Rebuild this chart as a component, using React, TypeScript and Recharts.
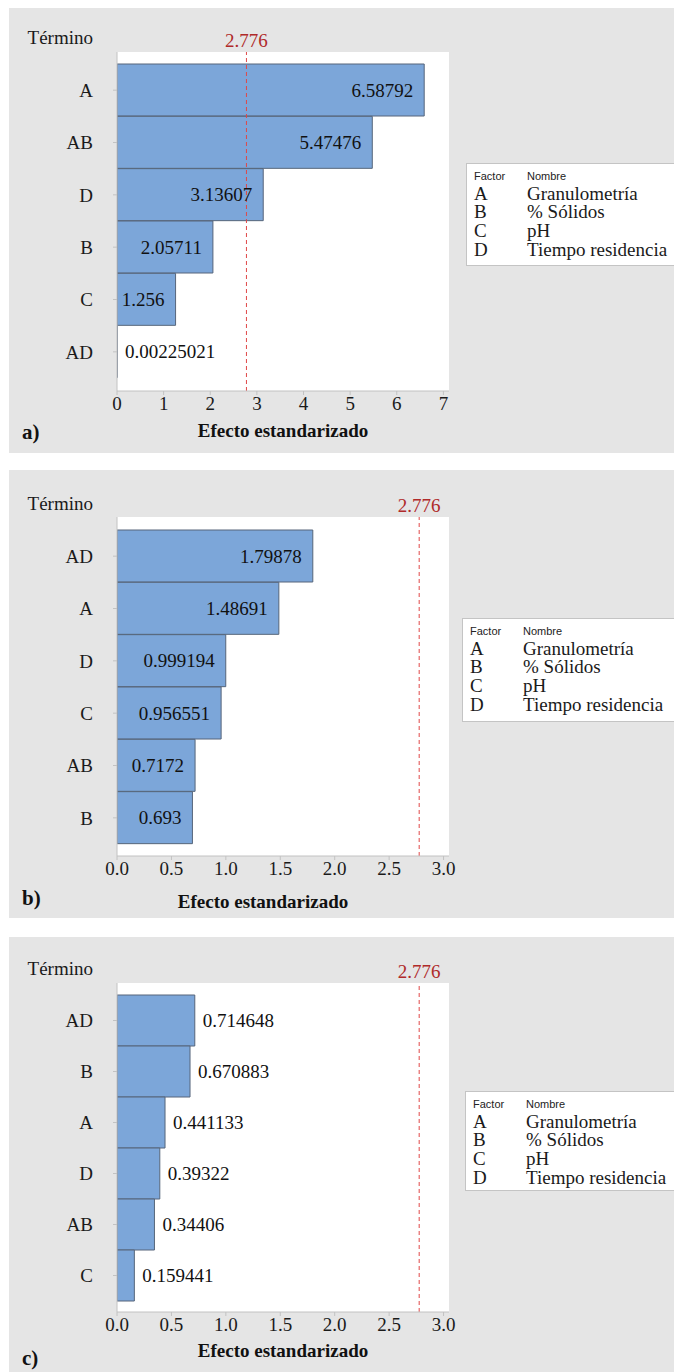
import { BarChart, Bar, XAxis, YAxis, CartesianGrid, ReferenceLine, LabelList } from 'recharts';

// Critical t value shown as the dashed reference line
const CRITICAL = 2.776;

const FACTORS = ['A', 'B', 'C', 'D'];
const FACTOR_NAMES = ['Granulometría', '% Sólidos', 'pH', 'Tiempo residencia'];

// a) standardized effects
const termsA = ['A', 'AB', 'D', 'B', 'C', 'AD'];
const effectsA = [6.58792, 5.47476, 3.13607, 2.05711, 1.256, 0.00225021];
const ticksA = [0, 1, 2, 3, 4, 5, 6, 7];

// b) standardized effects
const termsB = ['AD', 'A', 'D', 'C', 'AB', 'B'];
const effectsB = [1.79878, 1.48691, 0.999194, 0.956551, 0.7172, 0.693];
const ticksB = [0, 0.5, 1, 1.5, 2, 2.5, 3];

// c) standardized effects
const termsC = ['AD', 'B', 'A', 'D', 'AB', 'C'];
const effectsC = [0.714648, 0.670883, 0.441133, 0.39322, 0.34406, 0.159441];
const ticksC = [0, 0.5, 1, 1.5, 2, 2.5, 3];

const SERIF = '"Liberation Serif", "Times New Roman", serif';
const SANS = '"Liberation Sans", Arial, sans-serif';
const FS = 19;
const GRAY_LINE = '#c2c2c2';

// rough Times width: digits are half an em, the point a quarter
const textWidth = (s: string) => [...s].reduce((w, c) => w + (c === '.' ? 0.25 : 0.5), 0) * FS;

const EffectLabel = (props: any) => {
  const vb = props.viewBox ?? {};
  const x = Number(props.x ?? vb.x);
  const y = Number(props.y ?? vb.y);
  const w = Number(props.width ?? vb.width);
  const h = Number(props.height ?? vb.height);
  const txt = String(props.value);
  const inside = w >= textWidth(txt) + 14;
  return (
    <text
      x={inside ? x + w - 11 : x + w + 8}
      y={y + h / 2}
      textAnchor={inside ? 'end' : 'start'}
      dominantBaseline="central"
      fontSize={FS}
      fontFamily={SERIF}
      fill="#111"
    >
      {txt}
    </text>
  );
};

interface LegendBox {
  x: number;
  y: number;
  w: number;
  h: number;
}

interface PanelProps {
  terms: string[];
  effects: number[];
  ticks: number[];
  domainMax: number;
  decimals: number;
  top: number;
  height: number;
  plotTop: number;
  plotBottom: number;
  padTop: number;
  padBottom: number;
  legend: LegendBox;
  titleX: number;
  titleY: number;
  termY: number;
  tag: string;
  tagY: number;
}

const EffectsPanel = (p: PanelProps) => {
  const data = p.terms.map((term, i) => ({ term, effect: p.effects[i] }));
  const axisH = 30;
  return (
    <div style={{ position: 'absolute', left: 9, top: p.top, width: 673, height: p.height, background: '#e5e5e5' }}>
      <BarChart
        width={673}
        height={p.height}
        data={data}
        layout="vertical"
        barCategoryGap={0}
        margin={{ top: p.plotTop, right: 233, bottom: p.height - p.plotBottom - axisH, left: 0 }}
      >
        <CartesianGrid fill="#fff" horizontal={false} vertical={false} />
        <XAxis
          type="number"
          domain={[0, p.domainMax]}
          ticks={p.ticks}
          tickFormatter={(v: number) => v.toFixed(p.decimals)}
          allowDataOverflow
          height={axisH}
          tickSize={4}
          tickMargin={2}
          axisLine={{ stroke: GRAY_LINE }}
          tickLine={{ stroke: GRAY_LINE }}
          tick={{ fill: '#1a1a1a', fontSize: FS, fontFamily: SERIF }}
        />
        <XAxis
          xAxisId="top"
          orientation="top"
          type="number"
          domain={[0, p.domainMax]}
          height={0}
          tick={false}
          tickLine={false}
          axisLine={{ stroke: GRAY_LINE }}
        />
        <YAxis
          type="category"
          dataKey="term"
          width={108}
          tickSize={4}
          tickMargin={20}
          padding={{ top: p.padTop, bottom: p.padBottom }}
          axisLine={{ stroke: GRAY_LINE }}
          tickLine={{ stroke: GRAY_LINE }}
          tick={{ fill: '#1a1a1a', fontSize: FS, fontFamily: SERIF }}
        />
        <YAxis
          yAxisId="right"
          orientation="right"
          type="category"
          dataKey="term"
          width={0}
          tick={false}
          tickLine={false}
          axisLine={{ stroke: GRAY_LINE }}
        />
        <Bar dataKey="effect" fill="#7ca6d9" stroke="#56657a" strokeWidth={1} isAnimationActive={false}>
          <LabelList dataKey="effect" content={EffectLabel} />
        </Bar>
        <ReferenceLine
          x={CRITICAL}
          stroke="#e04848"
          strokeDasharray="4 3"
          label={{ value: String(CRITICAL), position: 'top', fill: '#b02a2a', fontSize: FS, fontFamily: SERIF }}
        />
      </BarChart>
      <svg width={673} height={p.height} style={{ position: 'absolute', left: 0, top: 0, pointerEvents: 'none' }}>
        <text x={84} y={p.termY} textAnchor="end" dominantBaseline="central" fontSize={FS} fontFamily={SERIF} fill="#1a1a1a">
          Término
        </text>
        <text
          x={p.titleX}
          y={p.titleY}
          textAnchor="middle"
          dominantBaseline="central"
          fontSize={FS}
          fontWeight="bold"
          fontFamily={SERIF}
          fill="#111"
        >
          Efecto estandarizado
        </text>
        <text x={13} y={p.tagY} dominantBaseline="central" fontSize={21} fontWeight="bold" fontFamily={SERIF} fill="#111">
          {p.tag}
        </text>
        <g transform={`translate(${p.legend.x},${p.legend.y})`}>
          <rect x={0.5} y={0.5} width={p.legend.w} height={p.legend.h} fill="#fff" stroke="#c4c4c4" />
          <text x={8} y={13} dominantBaseline="central" fontSize={11} fontFamily={SANS} fill="#222">
            Factor
          </text>
          <text x={61} y={13} dominantBaseline="central" fontSize={11} fontFamily={SANS} fill="#222">
            Nombre
          </text>
          {FACTORS.map((f, i) => (
            <g key={f}>
              <text x={8} y={30 + i * 18.7} dominantBaseline="central" fontSize={FS} fontFamily={SERIF} fill="#1a1a1a">
                {f}
              </text>
              <text x={61} y={30 + i * 18.7} dominantBaseline="central" fontSize={FS} fontFamily={SERIF} fill="#1a1a1a">
                {FACTOR_NAMES[i]}
              </text>
            </g>
          ))}
        </g>
      </svg>
    </div>
  );
};

export default function App() {
  return (
    <div style={{ position: 'relative', width: 682, height: 1372, margin: '-8px 0 0 -8px', fontFamily: SERIF, background: '#fff' }}>
      <EffectsPanel
        terms={termsA}
        effects={effectsA}
        ticks={ticksA}
        domainMax={7.12}
        decimals={0}
        top={5}
        height={448}
        plotTop={47}
        plotBottom={386}
        padTop={12}
        padBottom={13}
        legend={{ x: 457, y: 158, w: 211, h: 102 }}
        titleX={274}
        titleY={425}
        termY={32}
        tag="a)"
        tagY={427}
      />
      <EffectsPanel
        terms={termsB}
        effects={effectsB}
        ticks={ticksB}
        domainMax={3.05}
        decimals={1}
        top={470}
        height={448}
        plotTop={47}
        plotBottom={386}
        padTop={13}
        padBottom={12}
        legend={{ x: 453, y: 148, w: 212, h: 103 }}
        titleX={254}
        titleY={431}
        termY={33}
        tag="b)"
        tagY={428}
      />
      <EffectsPanel
        terms={termsC}
        effects={effectsC}
        ticks={ticksC}
        domainMax={3.05}
        decimals={1}
        top={937}
        height={435}
        plotTop={46}
        plotBottom={375}
        padTop={12}
        padBottom={11}
        legend={{ x: 456, y: 154, w: 212, h: 99 }}
        titleX={274}
        titleY={413}
        termY={31}
        tag="c)"
        tagY={421}
      />
    </div>
  );
}
